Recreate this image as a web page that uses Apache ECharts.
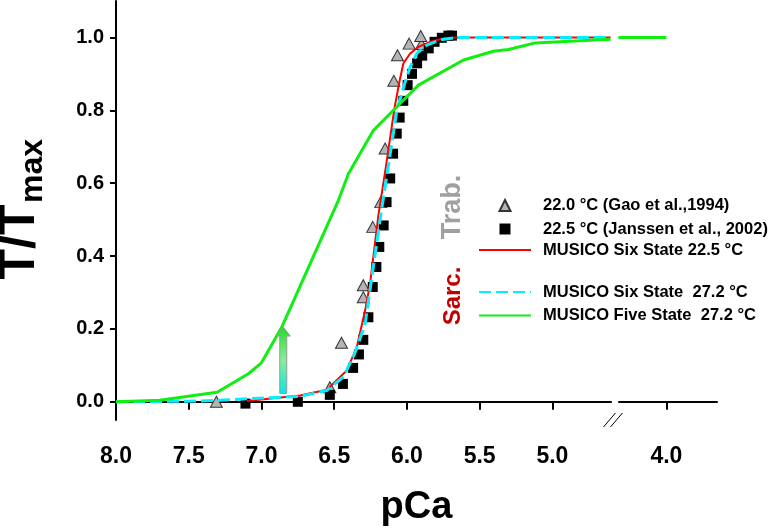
<!DOCTYPE html>
<html><head><meta charset="utf-8">
<script src="https://cdn.jsdelivr.net/npm/echarts@6.0.0/dist/echarts.min.js"></script>
<style>html,body{margin:0;padding:0;background:#fff}#chart{width:769px;height:528px}</style>
</head><body><div id="chart"></div>
<script>
// ---- data ----
const xTickValues = [8.0, 7.5, 7.0, 6.5, 6.0, 5.5, 5.0, 4.0];
const yTickValues = [0.0, 0.2, 0.4, 0.6, 0.8, 1.0];

const gaoName = '22.0 °C (Gao et al.,1994)';
const gaoPCa = [7.31, 6.53, 6.45, 6.30, 6.30, 6.235, 6.18, 6.15, 6.09, 6.065, 5.985, 5.90, 5.905];
const gaoT   = [0.0, 0.04, 0.162, 0.287, 0.32, 0.48, 0.548, 0.695, 0.881, 0.951, 0.983, 0.982, 1.004];

const janName = '22.5 °C (Janssen et al., 2002)';
const janPCa = [7.11, 6.75, 6.53, 6.44, 6.37, 6.33, 6.30, 6.265, 6.235, 6.21, 6.19, 6.16, 6.14, 6.115, 6.095, 6.07, 6.05, 6.025, 5.995, 5.965, 5.93, 5.895, 5.85, 5.81, 5.76, 5.715, 5.69];
const janT   = [-0.005, 0.0, 0.019, 0.049, 0.093, 0.130, 0.170, 0.232, 0.315, 0.370, 0.425, 0.484, 0.548, 0.613, 0.681, 0.736, 0.780, 0.826, 0.869, 0.900, 0.929, 0.950, 0.970, 0.988, 0.999, 1.005, 1.005];

const six225Name = 'MUSICO Six State 22.5 °C';
const six225PCa = [7.10, 6.735, 6.551, 6.413, 6.345, 6.287, 6.253, 6.196, 6.143, 6.088, 6.052, 6.024, 5.978, 5.921, 5.84, 5.749, 5.657, 4.6];
const six225T   = [0.002, 0.017, 0.033, 0.086, 0.150, 0.251, 0.325, 0.512, 0.649, 0.800, 0.878, 0.929, 0.956, 0.974, 0.988, 0.997, 1.0, 1.0];

const six272Name = 'MUSICO Six State  27.2 °C';
const six272PCa = [8.0, 7.42, 6.735, 6.551, 6.437, 6.356, 6.287, 6.18, 6.069, 6.012, 5.978, 5.932, 5.863, 5.772, 5.657, 4.6];
const six272T   = [0.0, 0.002, 0.015, 0.031, 0.068, 0.135, 0.214, 0.512, 0.800, 0.878, 0.919, 0.956, 0.979, 0.993, 1.0, 1.0];

const five272Name = 'MUSICO Five State  27.2 °C';
const five272PCa = [8.0, 7.70, 7.305, 7.09, 7.0, 6.86, 6.471, 6.402, 6.23, 6.093, 5.921, 5.611, 5.405, 5.302, 5.118, 4.6, 4.47, 4.33, 4.0];
const five272T   = [0.0, 0.004, 0.026, 0.077, 0.107, 0.205, 0.553, 0.626, 0.745, 0.80, 0.869, 0.938, 0.962, 0.967, 0.985, 0.995, '-', 1.0, 1.0];

const arrowPCa = 6.85;
const arrowFromT = 0.023;
const arrowToT = 0.205;

const axisBreak = { start: 4.33, end: 4.6 };
// -----------------------------------------------

const pairs = (xs, ys) => xs.map((x, i) => [x, ys[i]]);
const FONT = "'Liberation Sans', Arial, sans-serif";

const chart = echarts.init(document.getElementById('chart'), null, { renderer: 'canvas' });

const legendText = (padLeft) => ({ fontFamily: FONT, fontWeight: 'bold', fontSize: 16.5, color: '#000', padding: [0, 0, 0, padLeft] });

const option = {
  animation: false,
  backgroundColor: '#ffffff',
  grid: { left: 116, right: 52, top: 1, bottom: 108, containLabel: false, outerBoundsMode: 'none' },
  xAxis: {
    type: 'value', inverse: true, min: 3.652, max: 8.0,
    breaks: [{ start: axisBreak.start, end: axisBreak.end, gap: '1.3%' }],
    breakArea: { show: false },
    name: 'pCa', nameLocation: 'middle', nameGap: 69,
    nameTextStyle: { fontFamily: FONT, fontWeight: 'bold', fontSize: 38, color: '#000' },
    axisLine: { lineStyle: { color: '#000', width: 2 } },
    axisTick: { show: true, customValues: xTickValues, length: 8, lineStyle: { color: '#000', width: 2 } },
    axisLabel: { customValues: xTickValues, margin: 25, formatter: v => Number(v).toFixed(1),
      fontFamily: FONT, fontWeight: 'bold', fontSize: 23, color: '#000' },
    splitLine: { show: false }
  },
  yAxis: {
    type: 'value', min: -0.05, max: 1.1,
    axisLine: { lineStyle: { color: '#000', width: 2 } },
    axisTick: { show: true, customValues: yTickValues, length: 6, lineStyle: { color: '#000', width: 2 } },
    axisLabel: { customValues: yTickValues, margin: 12, formatter: v => Number(v).toFixed(1),
      fontFamily: FONT, fontWeight: 'bold', fontSize: 20, color: '#000' },
    splitLine: { show: false }
  },
  legend: [
    { data: [gaoName, janName], orient: 'vertical', left: 498.5, top: 197, padding: 0,
      itemWidth: 11, itemHeight: 11, itemGap: 6.5, textStyle: legendText(27.5) },
    { data: [six225Name], orient: 'vertical', left: 478, top: 241.5, padding: 0,
      itemWidth: 52, itemHeight: 11, itemGap: 6.5, itemStyle: { opacity: 0 }, textStyle: legendText(7) },
    { data: [six272Name, five272Name], orient: 'vertical', left: 478, top: 283.5, padding: 0,
      itemWidth: 52, itemHeight: 11, itemGap: 6.5, itemStyle: { opacity: 0 }, textStyle: legendText(7) }
  ],
  series: [
    { name: gaoName, type: 'scatter', data: pairs(gaoPCa, gaoT), symbol: 'triangle', symbolSize: [12, 11],
      itemStyle: { color: '#b4b4b4', borderColor: '#333', borderWidth: 1, opacity: 1 } },
    { name: janName, type: 'scatter', data: pairs(janPCa, janT), symbol: 'rect', symbolSize: 10,
      itemStyle: { color: '#000', opacity: 1 } },
    { name: six225Name, type: 'line', data: pairs(six225PCa, six225T), symbol: 'none',
      lineStyle: { color: '#ff0000', width: 2 }, itemStyle: { color: '#ff0000' } },
    { name: six272Name, type: 'line', data: pairs(six272PCa, six272T), symbol: 'none',
      lineStyle: { color: '#00f0ff', width: 3, type: [12, 5] }, itemStyle: { color: '#00f0ff' } },
    { name: five272Name, type: 'line', data: pairs(five272PCa, five272T), symbol: 'none', connectNulls: false,
      lineStyle: { color: '#11ee11', width: 3 }, itemStyle: { color: '#11ee11' } }
  ]
};
chart.setOption(option);

// annotations positioned through the chart's own scales
const px = (x, y) => chart.convertToPixel({ gridIndex: 0 }, [x, y]);
const aBot = px(arrowPCa, arrowFromT), aTop = px(arrowPCa, arrowToT);
const cx = aBot[0], yb = aBot[1], yt = aTop[1];
const bA = px(axisBreak.end, -0.05), bB = px(axisBreak.start, -0.05);
const mx = (bA[0] + bB[0]) / 2, my = bA[1];

chart.setOption({
  graphic: [
    { type: 'text', z: 100, x: 20, y: 242, rotation: Math.PI / 2,
      style: { text: 'T/T', fill: '#000', font: "bold 50px 'Liberation Sans', Arial, sans-serif", align: 'center', verticalAlign: 'middle' } },
    { type: 'text', z: 100, x: 33, y: 171, rotation: Math.PI / 2,
      style: { text: 'max', fill: '#000', font: "bold 32px 'Liberation Sans', Arial, sans-serif", align: 'center', verticalAlign: 'middle' } },
    { type: 'polygon', z: 100,
      shape: { points: [[cx - 3.5, yb], [cx + 3.5, yb], [cx + 3.5, yt + 9], [cx + 7, yt + 9], [cx, yt], [cx - 7, yt + 9], [cx - 3.5, yt + 9]] },
      style: { fill: new echarts.graphic.LinearGradient(0, 0, 0, 1, [
        { offset: 0, color: '#22dd22' }, { offset: 0.5, color: '#88ee99' }, { offset: 1, color: '#00e8e8' }]),
        stroke: '#999', lineWidth: 1 } },
    { type: 'line', z: 100, shape: { x1: mx - 11, y1: my + 7, x2: mx + 1, y2: my - 7 }, style: { stroke: '#000', lineWidth: 1 } },
    { type: 'line', z: 100, shape: { x1: mx - 4, y1: my + 7, x2: mx + 8, y2: my - 7 }, style: { stroke: '#000', lineWidth: 1 } },
    { type: 'text', z: 100, x: 453, y: 207, rotation: Math.PI / 2,
      style: { text: 'Trab.', fill: '#a0a0a0', font: "bold 27px 'Liberation Sans', Arial, sans-serif", align: 'center', verticalAlign: 'middle' } },
    { type: 'text', z: 100, x: 453, y: 296, rotation: Math.PI / 2,
      style: { text: 'Sarc.', fill: '#c00000', font: "bold 24px 'Liberation Sans', Arial, sans-serif", align: 'center', verticalAlign: 'middle' } }
  ]
});
</script>
</body></html>
